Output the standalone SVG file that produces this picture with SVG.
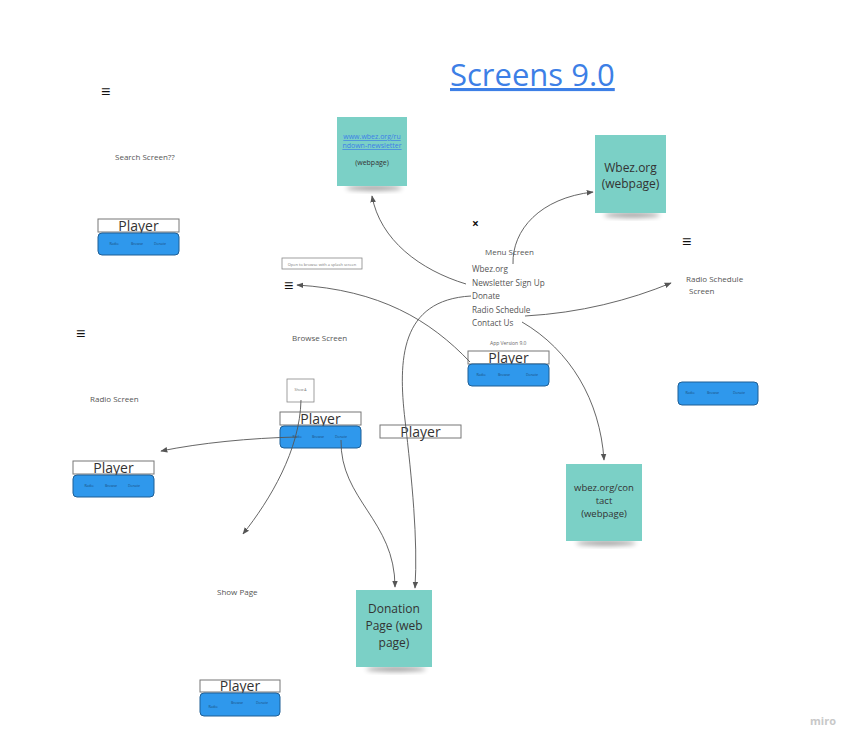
<svg xmlns="http://www.w3.org/2000/svg" width="856" height="747" viewBox="0 0 856 747">
<defs>
<style>
text{font-family:"Open Sans","Liberation Sans",sans-serif;fill:#444}
.sm{font-size:8px;fill:#555}
.menu{font-size:8.2px;fill:#555}
.ham{font-size:16px;font-weight:bold;fill:#111}
.pl{fill:#fff;stroke:#777;stroke-width:1}
.plt{font-size:14px;fill:#333;text-anchor:middle}
.bar{fill:#2f98ec;stroke:#1f5f95;stroke-width:1}
.bt{font-size:3.5px;fill:#1b4f80;text-anchor:middle}
.note{fill:#7bd0c6}
.nt{font-size:12px;fill:#333;text-anchor:middle}
.con{fill:none;stroke:#555;stroke-width:0.9}
</style>
<marker id="ah" viewBox="0 0 10 10" refX="9" refY="5" markerWidth="7" markerHeight="7" orient="auto-start-reverse" markerUnits="userSpaceOnUse">
<path d="M0,1 L10,5 L0,9 z" fill="#555"/>
</marker>
<filter id="sh" x="-30%" y="-30%" width="160%" height="200%">
<feGaussianBlur stdDeviation="2.5"/>
</filter>
</defs>
<rect width="856" height="747" fill="#fff"/>

<g id="title">
<text x="450" y="86" style="font-size:31px;fill:#3d7fe6;text-decoration:underline">Screens 9.0</text>
</g>

<g id="icons">
<text class="ham" x="101" y="97">≡</text>
<text class="ham" x="284" y="291">≡</text>
<text class="ham" x="76" y="339">≡</text>
<text class="ham" x="682" y="247">≡</text>
<text x="472" y="228" style="font-size:12px;font-weight:bold;fill:#111">×</text>
</g>

<g id="labels">
<text class="sm" x="115" y="160">Search Screen??</text>
<text class="sm" x="485" y="255">Menu Screen</text>
<text class="menu" x="472" y="272">Wbez.org</text>
<text class="menu" x="472" y="286">Newsletter Sign Up</text>
<text class="menu" x="472" y="299">Donate</text>
<text class="menu" x="472" y="313">Radio Schedule</text>
<text class="menu" x="472" y="326">Contact Us</text>
<text x="490" y="345" style="font-size:5px;fill:#666">App Version 9.0</text>
<text class="sm" x="686" y="282">Radio Schedule</text>
<text class="sm" x="689" y="294">Screen</text>
<text class="sm" x="292" y="341">Browse Screen</text>
<text class="sm" x="90" y="402">Radio Screen</text>
<text class="sm" x="217" y="595">Show Page</text>
</g>

<g id="splash">
<rect x="282" y="258" width="80" height="11" fill="#fff" stroke="#888" stroke-width="0.8"/>
<text x="322" y="265.5" style="font-size:4px;fill:#777;text-anchor:middle">Open to browse with a splash screen</text>
</g>
<g id="showA">
<rect x="287" y="379" width="27" height="23" fill="#fff" stroke="#888" stroke-width="0.8"/>
<text x="300.5" y="391" style="font-size:3.5px;fill:#777;text-anchor:middle">Show A</text>
</g>

<g id="player1">
<rect class="pl" x="98" y="219" width="81" height="13"/>
<text class="plt" x="138.5" y="231">Player</text>
<rect class="bar" x="98" y="233" width="81" height="22" rx="4"/>
<text class="bt" x="114" y="245">Radio</text><text class="bt" x="137" y="245">Browse</text><text class="bt" x="160" y="245">Donate</text>
</g>
<g id="player2">
<rect class="pl" x="468" y="351" width="81" height="13"/>
<text class="plt" x="508.5" y="363">Player</text>
<rect class="bar" x="468" y="364" width="81" height="22" rx="4"/>
<text class="bt" x="481" y="376">Radio</text><text class="bt" x="504" y="376">Browse</text><text class="bt" x="532" y="376">Donate</text>
</g>
<g id="player3">
<rect class="pl" x="280" y="412" width="81" height="13"/>
<text class="plt" x="320.5" y="424">Player</text>
<rect class="bar" x="280" y="426" width="81" height="22" rx="4"/>
<text class="bt" x="297" y="438">Radio</text><text class="bt" x="318" y="438">Browse</text><text class="bt" x="341" y="438">Donate</text>
</g>
<g id="player4">
<rect class="pl" x="73" y="461" width="81" height="13"/>
<text class="plt" x="113.5" y="473">Player</text>
<rect class="bar" x="73" y="475" width="81" height="22" rx="4"/>
<text class="bt" x="89" y="487">Radio</text><text class="bt" x="111" y="487">Browse</text><text class="bt" x="134" y="487">Donate</text>
</g>
<g id="player5">
<rect class="pl" x="200" y="680" width="80" height="12"/>
<text class="plt" x="240" y="691">Player</text>
<rect class="bar" x="200" y="693" width="80" height="23" rx="4"/>
<text class="bt" x="213" y="708">Radio</text><text class="bt" x="237" y="704">Browse</text><text class="bt" x="262" y="704">Donate</text>
</g>
<g id="player6">
<rect class="bar" x="678" y="382" width="80" height="23" rx="4"/>
<text class="bt" x="690" y="394">Radio</text><text class="bt" x="713" y="394">Browse</text><text class="bt" x="739" y="394">Donate</text>
</g>
<g id="player7">
<rect class="pl" x="380" y="425" width="81" height="13"/>
<text class="plt" x="420.5" y="437">Player</text>
</g>

<g id="note-newsletter">
<ellipse cx="374" cy="188" rx="28" ry="2.5" fill="#000" opacity="0.4" filter="url(#sh)"/>
<rect class="note" x="337" y="117" width="70" height="69"/>
<text x="372" y="139" style="font-size:7px;fill:#3d7fe6;text-anchor:middle;text-decoration:underline">www.wbez.org/ru</text>
<text x="372" y="148" style="font-size:7px;fill:#3d7fe6;text-anchor:middle;text-decoration:underline">ndown-newsletter</text>
<text x="372" y="165" style="font-size:7px;fill:#333;text-anchor:middle">(webpage)</text>
</g>
<g id="note-wbez">
<ellipse cx="632" cy="215" rx="28" ry="2.5" fill="#000" opacity="0.4" filter="url(#sh)"/>
<rect class="note" x="595" y="135" width="71" height="78"/>
<text class="nt" x="630.5" y="172">Wbez.org</text>
<text class="nt" x="630.5" y="188">(webpage)</text>
</g>
<g id="note-contact">
<ellipse cx="606" cy="543" rx="30" ry="2.5" fill="#000" opacity="0.4" filter="url(#sh)"/>
<rect class="note" x="566" y="464" width="76" height="77"/>
<text x="604" y="491" style="font-size:9.5px;fill:#333;text-anchor:middle">wbez.org/con</text>
<text x="604" y="504" style="font-size:9.5px;fill:#333;text-anchor:middle">tact</text>
<text x="604" y="517" style="font-size:9.5px;fill:#333;text-anchor:middle">(webpage)</text>
</g>
<g id="note-donation">
<ellipse cx="396" cy="669" rx="30" ry="2.5" fill="#000" opacity="0.4" filter="url(#sh)"/>
<rect class="note" x="356" y="590" width="76" height="77"/>
<text class="nt" x="394" y="613">Donation</text>
<text class="nt" x="394" y="630">Page (web</text>
<text class="nt" x="394" y="647">page)</text>
</g>

<g id="connectors">
<path class="con" d="M466,284 C420,270 380,240 372,196" marker-end="url(#ah)"/>
<path class="con" d="M513,264 C512,230 540,198 593,192" marker-end="url(#ah)"/>
<path class="con" d="M525,316 C580,313 630,300 671,283" marker-end="url(#ah)"/>
<path class="con" d="M522,322 C570,350 600,400 604,460" marker-end="url(#ah)"/>
<path class="con" d="M471,296 C400,300 398,360 405,420 C412,480 418,540 415,588" marker-end="url(#ah)"/>
<path class="con" d="M470,362 C430,320 380,290 297,285" marker-end="url(#ah)"/>
<path class="con" d="M297,437 C250,438 200,443 161,451" marker-end="url(#ah)"/>
<path class="con" d="M301,400 C300,450 270,500 243,534" marker-end="url(#ah)"/>
<path class="con" d="M341,440 C340,500 395,520 395,587" marker-end="url(#ah)"/>
</g>

<g id="watermark">
<text x="810" y="725" style="font-size:11px;font-weight:bold;fill:#c8c8c8">miro</text>
</g>
</svg>
